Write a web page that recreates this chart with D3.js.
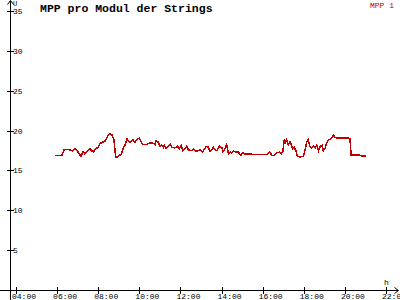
<!DOCTYPE html>
<html>
<head>
<meta charset="utf-8">
<script src="https://cdn.jsdelivr.net/npm/d3@7"></script>
<style>
  body { margin: 0; background: #fff; }
  svg { display: block; }
  text { font-family: "Liberation Mono", "DejaVu Sans Mono", monospace; }
</style>
</head>
<body>
<svg id="chart" width="400" height="300"></svg>
<script>
var times = ["05:54","06:14","06:20","06:29","06:38","06:44","06:52","07:01","07:10","07:16",
  "07:21","07:30","07:36","07:45","07:54","07:59","08:05","08:14","08:20","08:29",
  "08:34","08:40","08:46","08:51","08:55","09:01","09:07","09:12","09:18","09:24",
  "09:33","09:41","09:47","09:54","10:00","10:04","10:10","10:22","10:29","10:39",
  "10:46","10:49","10:56","11:00","11:05","11:10","11:13","11:18","11:25","11:30",
  "11:35","11:44","11:51","11:57","12:02","12:07","12:13","12:18","12:23","12:33",
  "12:38","12:46","12:52","12:59","13:05","13:09","13:15","13:22","13:26","13:31",
  "13:36","13:41","13:46","13:54","14:01","14:04","14:10","14:15","14:20","14:25",
  "14:30","14:35","14:42","14:49","14:56","15:02","15:09","15:18","15:48","16:12",
  "16:20","16:27","16:34","16:41","16:49","16:54","16:59","17:03","17:06","17:10",
  "17:15","17:20","17:25","17:28","17:32","17:38","17:41","17:49","17:59","18:04",
  "18:09","18:13","18:18","18:23","18:28","18:33","18:38","18:43","18:48","18:53",
  "18:57","19:02","19:07","19:12","19:17","19:22","19:27","19:31","19:38","19:46",
  "20:10","20:15","20:18","20:40","20:47","20:52","21:02"];
var mpp1 = [16.90,16.90,17.57,17.65,17.57,17.44,17.75,17.31,16.75,17.38,
  17.06,17.50,17.69,17.31,17.75,17.88,18.38,18.57,18.70,19.39,
  19.57,19.45,18.82,16.69,16.62,16.88,17.00,17.69,18.19,18.95,
  18.50,18.86,18.53,18.95,19.07,18.73,18.23,18.23,18.44,18.44,
  18.23,18.73,18.53,18.03,18.19,17.90,18.19,17.73,18.03,18.32,
  17.90,17.82,18.03,17.73,18.16,17.48,17.73,18.03,17.60,17.48,
  17.73,17.40,17.48,17.60,17.31,17.60,18.03,17.90,17.40,17.60,
  17.90,17.60,17.48,18.03,17.82,17.31,17.73,18.23,17.06,17.31,
  17.19,17.40,17.31,17.31,16.90,17.19,17.06,17.06,16.98,16.98,
  17.31,16.90,16.90,17.19,17.31,17.06,17.40,18.86,18.45,18.86,
  18.23,18.60,18.03,17.73,17.90,17.40,16.78,16.69,16.78,17.60,
  18.65,18.86,18.03,17.82,18.03,17.82,18.16,17.48,18.03,18.16,
  17.48,17.73,18.44,18.86,18.86,19.16,19.41,19.16,19.07,19.07,
  19.07,18.95,16.94,16.94,16.86,16.78,16.78];
var yTicks = [5, 10, 15, 20, 25, 30, 35];
var xTicks = ["04:00","06:00","08:00","10:00","12:00","14:00","16:00","18:00","20:00","22:00"];

var parseTime = d3.timeParse("%H:%M");
var data = times.map(function(t, i) { return {t: parseTime(t), v: mpp1[i]}; });

var svg = d3.select("#chart");
var axisX0 = 10, axisY0 = 290;

var x = d3.scaleTime()
    .domain([parseTime("04:00"), parseTime("22:00")])
    .range([16, 386]);
var y = d3.scaleLinear()
    .domain([0, 35])
    .range([axisY0, 11]);

// axes
svg.append("line")
    .attr("x1", axisX0 + 0.5).attr("x2", axisX0 + 0.5)
    .attr("y1", 1).attr("y2", 300)
    .attr("stroke", "#000").attr("stroke-width", 1);
svg.append("line")
    .attr("x1", 0).attr("x2", 398)
    .attr("y1", axisY0 + 0.5).attr("y2", axisY0 + 0.5)
    .attr("stroke", "#000").attr("stroke-width", 1);
svg.append("path")
    .attr("d", "M7.5,4.5 L10.5,0.5 L13.5,4.5")
    .attr("fill", "none").attr("stroke", "#000");
svg.append("path")
    .attr("d", "M394.5,287.5 L398.5,290.5 L394.5,293.5")
    .attr("fill", "none").attr("stroke", "#000");

svg.selectAll(".ytick")
    .data(yTicks)
    .enter().append("line")
    .attr("x1", 7).attr("x2", 14)
    .attr("y1", function(d) { return Math.round(y(d)) + 0.5; })
    .attr("y2", function(d) { return Math.round(y(d)) + 0.5; })
    .attr("stroke", "#000");
svg.selectAll(".ylabel")
    .data(yTicks)
    .enter().append("text")
    .attr("x", 13)
    .attr("y", function(d) { return y(d) + 3; })
    .attr("font-size", "8px")
    .attr("fill", "#000")
    .text(function(d) { return d; });

svg.selectAll(".xtick")
    .data(xTicks)
    .enter().append("line")
    .attr("x1", function(d) { return Math.round(x(parseTime(d))) + 0.5; })
    .attr("x2", function(d) { return Math.round(x(parseTime(d))) + 0.5; })
    .attr("y1", 287).attr("y2", 294)
    .attr("stroke", "#000");
svg.selectAll(".xlabel")
    .data(xTicks)
    .enter().append("text")
    .attr("x", function(d) { return x(parseTime(d)) - 4; })
    .attr("y", 299)
    .attr("font-size", "8px")
    .attr("fill", "#000")
    .text(function(d) { return d; });

svg.append("text").attr("x", 13).attr("y", 5.5)
    .attr("font-size", "7px").text("U");
svg.append("text").attr("x", 384).attr("y", 285)
    .attr("font-size", "8px").text("h");

// title and legend
svg.append("text")
    .attr("x", 40).attr("y", 12)
    .attr("font-size", "11.5px")
    .attr("font-weight", "bold")
    .text("MPP pro Modul der Strings");
svg.append("text")
    .attr("x", 394).attr("y", 7.5)
    .attr("text-anchor", "end")
    .attr("font-size", "8px")
    .attr("fill", "#c00000")
    .text("MPP 1");

// series
var line = d3.line()
    .x(function(d) { return x(d.t); })
    .y(function(d) { return y(d.v); });
svg.append("path")
    .datum(data)
    .attr("d", line)
    .attr("fill", "none")
    .attr("stroke", "#c00000")
    .attr("stroke-width", 1.5)
    .attr("shape-rendering", "crispEdges");
</script>
</body>
</html>
